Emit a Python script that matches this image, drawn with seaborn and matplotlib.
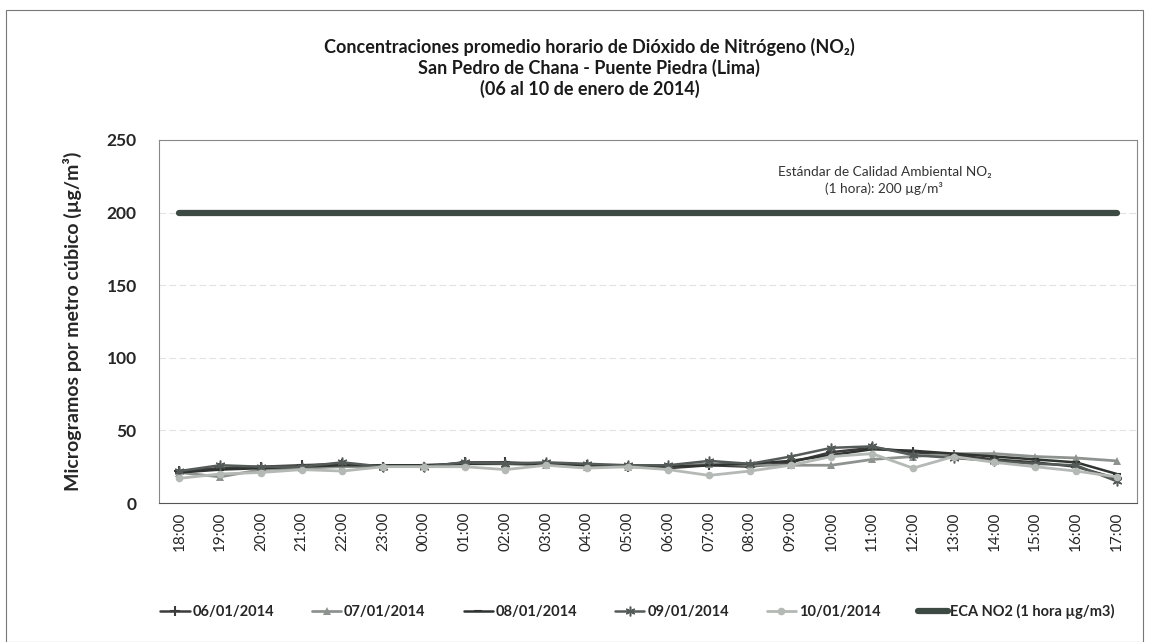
import matplotlib
matplotlib.use("Agg")
import matplotlib.pyplot as plt
import seaborn as sns
import pandas as pd
from matplotlib.patches import Rectangle

# hourly NO2 averages (ug/m3)
hours = ["18:00", "19:00", "20:00", "21:00", "22:00", "23:00", "00:00", "01:00",
         "02:00", "03:00", "04:00", "05:00", "06:00", "07:00", "08:00", "09:00",
         "10:00", "11:00", "12:00", "13:00", "14:00", "15:00", "16:00", "17:00"]
d0601 = [22, 24, 25, 26, 27, 25, 25, 28, 28, 27, 26, 25, 24, 26, 25, 28, 35, 38, 35, 33, 30, 28, 25, 17]
d0701 = [21, 18, 23, 24, 25, 25, 26, 27, 27, 26, 25, 25, 25, 27, 26, 26, 26, 30, 32, 34, 34, 32, 31, 29]
d0801 = [21, 23, 24, 25, 26, 26, 26, 27, 27, 27, 26, 26, 25, 26, 27, 29, 33, 37, 36, 34, 32, 30, 28, 20]
d0901 = [22, 26, 25, 25, 28, 25, 25, 28, 27, 28, 27, 26, 26, 29, 27, 32, 38, 39, 33, 31, 29, 27, 26, 15]
d1001 = [17, 20, 21, 23, 22, 25, 25, 25, 23, 26, 24, 25, 23, 19, 22, 26, 32, 34, 24, 32, 28, 25, 22, 18]
eca = [200] * len(hours)

series_names = ["06/01/2014", "07/01/2014", "08/01/2014", "09/01/2014", "10/01/2014",
                "ECA NO2 (1 hora µg/m3)"]
series_values = [d0601, d0701, d0801, d0901, d1001, eca]

styles = {
    "06/01/2014": dict(color="#3c3c3c", marker="+", markersize=7, markeredgewidth=1.5, linewidth=1.8),
    "07/01/2014": dict(color="#8e9390", marker="^", markersize=5.5, markeredgewidth=0, linewidth=2),
    "08/01/2014": dict(color="#2f3431", marker="_", markersize=6, markeredgewidth=1.5, linewidth=1.8),
    "09/01/2014": dict(color="#555b58", marker=(6, 2, 0), markersize=7, markeredgewidth=1.1, linewidth=1.8),
    "10/01/2014": dict(color="#b4b9b6", marker="o", markersize=5.5, markeredgewidth=0, linewidth=2),
    "ECA NO2 (1 hora µg/m3)": dict(color="#3d4a44", marker=None, linewidth=4.5),
}

rows = []
for name, vals in zip(series_names, series_values):
    for i, v in enumerate(vals):
        rows.append({"pos": i, "hora": hours[i], "serie": name, "valor": v})
df = pd.DataFrame(rows)

sns.set_style("white")
plt.rcParams["font.family"] = ["Lato", "DejaVu Sans"]

fig = plt.figure(figsize=(11.49, 6.42), dpi=100)
ax = fig.add_axes([0.1384, 0.2165, 0.8512, 0.5655])

for name in series_names:
    sub = df[df.serie == name]
    st = styles[name]
    sns.lineplot(data=sub, x="pos", y="valor", ax=ax, sort=False, label=name,
                 color=st["color"], marker=st.get("marker"), markersize=st.get("markersize", 0),
                 markeredgewidth=st.get("markeredgewidth", 0), markeredgecolor=st["color"],
                 linewidth=st["linewidth"], errorbar=None)

ax.set_xlim(-0.5, len(hours) - 0.5)
ax.set_ylim(0, 250)
ax.set_xticks(range(len(hours)))
ax.set_xticklabels(hours, rotation=90, fontsize=11)
ax.set_yticks([0, 50, 100, 150, 200, 250])
ax.set_yticklabels(["0", "50", "100", "150", "200", "250"], fontsize=12.5, fontweight="bold")
ax.tick_params(axis="y", length=4, color="#999999", pad=12)
ax.tick_params(axis="x", length=0, pad=6)
ax.yaxis.grid(True, color="#e2e2e2", linestyle=(0, (6, 3)), linewidth=0.8)
ax.set_axisbelow(True)
for sp in ax.spines.values():
    sp.set_color("#888888")
    sp.set_linewidth(0.8)
ax.spines["bottom"].set_color("#555555")

ax.set_xlabel("")
ax.set_ylabel("Microgramos por metro cúbico (µg/m³)", fontsize=14, fontweight="bold", labelpad=18)

ax.text(17.3, 222, "Estándar de Calidad Ambiental NO₂\n(1 hora): 200 µg/m³",
        ha="center", va="center", fontsize=9.8, color="#333333", linespacing=1.3)

fig.text(0.513, 0.894, "Concentraciones promedio horario de Dióxido de Nitrógeno (NO₂)\n"
         "San Pedro de Chana - Puente Piedra (Lima)\n(06 al 10 de enero de 2014)",
         ha="center", va="center", fontsize=13, fontweight="bold", linespacing=1.2,
         color="#1a1a1a")

ax.legend_.remove()
handles, labels = ax.get_legend_handles_labels()
fig.legend(handles, labels, loc="center", bbox_to_anchor=(0.555, 0.047), ncol=6, frameon=False,
           prop={"weight": "bold", "size": 10.5}, handlelength=2.0, handletextpad=0.2,
           columnspacing=2.6)

fig.patches.append(Rectangle((0.005, 0.0), 0.99, 0.985, transform=fig.transFigure,
                             fill=False, edgecolor="#777777", linewidth=0.8))

fig.savefig("out.png", dpi=100)
